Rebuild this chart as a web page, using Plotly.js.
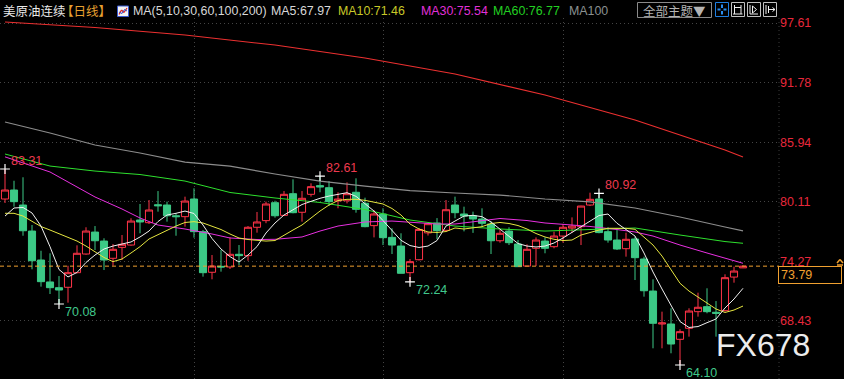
<!DOCTYPE html>
<html><head><meta charset="utf-8">
<script src="https://cdn.plot.ly/plotly-3.0.1.min.js"></script>
<style>html,body{margin:0;padding:0;background:#000;overflow:hidden}</style>
</head><body><div id="chart" style="width:844px;height:379px"></div>
<script>
// ---------------- DATA ----------------
const opens = [80.37,81.25,79.78,77.23,74.39,72.24,71.68,71.72,73.15,74.98,
77.13,76.25,74.56,75.63,75.86,78.31,78.05,79.81,79.78,78.73,
78.64,80.37,77.17,73.19,73.77,73.71,74.95,74.82,77.60,78.25,
80.01,78.77,80.89,79.07,80.83,81.68,81.48,80.18,80.20,81.03,
79.95,77.76,78.90,76.61,75.76,73.15,74.42,77.05,78.02,77.30,
79.78,78.90,78.73,78.41,77.92,76.28,77.23,75.96,73.80,75.54,
76.25,75.70,76.74,77.52,77.66,79.78,80.37,77.17,76.35,75.50,
76.45,74.49,71.35,68.12,68.12,66.62,67.70,69.33,69.82,69.27,
69.43,72.72,73.62];
const highs = [83.31,82.16,82.50,77.82,75.30,75.05,72.82,73.83,75.83,77.60,
77.72,76.52,75.96,76.84,78.48,79.88,80.27,81.15,80.11,78.97,
80.60,81.42,77.33,74.88,75.37,76.61,75.86,77.72,79.10,80.11,
80.20,81.15,82.30,81.15,81.91,82.61,82.13,81.03,82.00,82.40,
80.50,79.29,79.46,77.50,77.01,74.49,77.52,78.02,78.50,80.27,
80.60,79.62,79.13,79.46,78.21,77.33,77.60,76.35,75.93,76.61,
76.61,77.17,77.92,78.57,79.71,80.99,80.92,77.60,77.33,77.07,
76.68,74.72,72.50,69.33,69.66,67.60,69.66,71.19,71.62,70.37,
72.99,73.74,73.85];
const lows = [79.98,79.62,76.77,73.48,71.78,71.06,70.08,70.21,73.09,74.91,
75.37,73.41,73.83,74.39,75.79,77.01,77.92,79.13,78.15,76.77,
77.66,76.58,72.76,72.50,73.25,73.51,73.90,74.32,77.07,78.00,
78.54,78.70,78.97,78.15,80.60,81.03,79.68,79.46,79.94,79.03,
77.60,76.61,75.86,74.98,73.09,72.24,74.35,76.79,76.42,77.20,
78.48,77.20,77.05,77.66,74.98,76.09,75.86,73.74,73.80,73.80,
75.05,75.54,76.09,77.05,75.86,79.68,77.01,76.09,75.37,74.72,
72.43,70.80,65.74,65.74,65.25,64.10,66.88,68.84,69.17,66.88,
69.33,72.17,73.60];
const closes = [81.25,80.11,77.26,74.32,72.27,71.68,71.45,73.15,75.05,77.23,
76.28,74.39,75.44,75.93,78.21,78.12,79.29,79.71,78.73,78.64,
80.17,77.17,73.15,73.80,73.71,74.95,74.82,77.60,78.12,79.88,
78.73,80.83,79.03,80.44,81.58,81.55,80.11,80.37,80.89,79.36,
77.66,78.90,76.58,75.86,73.09,74.23,77.39,77.95,77.27,79.32,
79.03,78.70,78.41,77.99,76.28,77.01,76.09,73.74,75.44,76.35,
75.54,76.74,77.60,77.72,79.68,80.34,77.08,76.35,75.47,76.42,
74.62,71.38,68.19,68.22,66.16,67.37,69.39,69.76,69.33,69.17,
72.66,73.31,73.79];

const ma5 = [78.70,79.49,79.54,79.00,77.72,75.70,73.46,72.73,73.17,74.15,
74.88,75.47,75.76,75.96,76.16,76.65,77.23,78.16,78.80,78.97,
79.19,78.95,77.82,76.50,75.47,74.72,74.20,74.88,75.71,77.04,
78.02,78.80,79.29,79.83,80.14,80.44,80.66,80.86,80.99,80.63,
79.95,79.19,78.26,77.33,76.32,75.81,75.62,75.76,76.30,77.72,
78.21,78.70,78.77,78.64,78.12,77.43,76.69,76.01,75.76,75.67,
75.76,76.06,76.55,77.09,77.67,78.16,78.75,78.90,77.99,77.38,
76.74,75.08,73.22,71.55,69.88,68.36,67.78,67.87,68.25,68.61,
69.69,70.57,71.62];
const ma10 = [78.97,78.97,78.70,78.21,77.67,77.33,76.99,76.65,76.25,75.76,
75.18,74.64,74.23,74.49,75.08,75.70,76.45,76.89,77.33,77.72,
78.07,78.15,78.02,77.72,77.38,76.94,76.55,76.40,76.30,76.25,
76.30,76.84,77.33,77.82,78.51,79.19,79.78,80.22,80.34,80.34,
80.24,80.08,79.88,79.44,78.80,77.92,77.43,77.14,77.09,77.18,
77.53,77.43,77.53,77.66,77.97,78.07,77.97,77.77,77.43,76.99,
76.65,76.42,76.30,76.35,76.84,77.09,77.33,77.50,77.53,77.50,
77.40,76.65,75.86,74.78,73.41,72.11,71.35,70.77,70.23,69.59,
69.25,69.49,69.88];
const ma30Idx = [0,3,5,7,10,13,15,17,20,23,25,28,30,33,35,37,40,43,45,48,50,53,55,58,60,63,65,68,70,72,75,78,80,82];
const ma30 = [84.50,83.60,83.02,82.04,80.57,79.39,78.51,77.82,77.43,76.94,76.55,76.40,76.42,76.65,77.23,77.72,78.12,78.21,78.12,77.92,77.92,78.21,78.46,78.26,78.02,77.82,77.68,77.38,77.14,76.74,75.86,75.08,74.59,74.07];
const ma60Idx = [0,5,10,15,20,25,30,35,40,45,50,55,60,65,70,75,80,82];
const ma60 = [84.78,83.60,83.11,82.77,82.13,81.01,80.47,80.03,79.34,78.31,77.72,77.43,77.23,77.40,77.53,76.84,76.20,76.03];
const ma100Idx = [0,5,10,15,20,25,30,35,40,45,50,55,60,65,70,75,80,82];
const ma100 = [87.92,86.84,85.66,84.88,83.98,83.60,82.82,82.13,81.64,81.20,80.96,80.76,80.37,80.08,79.49,78.61,77.63,77.24];
const ma200Idx = [0,10,20,30,40,50,60,70,80,82];
const ma200 = [97.72,97.18,96.44,95.46,94.19,92.62,90.56,88.11,85.17,84.49];

const priceTicks = [97.61, 91.78, 85.94, 80.11, 74.27, 68.43];
const monthStarts = [21, 42, 62];
const highMarks = [0, 35, 66];
const lowMarks = [6, 45, 75];

const titleName = '美原油连续';
const period = '【日线】';
const maLabel = 'MA(5,10,30,60,100,200)';
const maValues = [['MA5', '67.97'], ['MA10', '71.46'], ['MA30', '75.54'], ['MA60', '76.77'], ['MA100', '']];
const themeLabel = '全部主题▼';
const watermark = 'FX678';

// ---------------- STYLE / LAYOUT ----------------
const W = 844, H = 379, L = 0, R = 65, T = 18, B = 0;
const plotW = W - L - R, plotH = H - T - B;
const fx = px => (px - L) / plotW;
const fy = py => (H - B - py) / plotH;
const RED = '#ff3448', GREEN = '#3cc986';
const LATIN = 'Liberation Sans, Arial, sans-serif';
const CJK = 'Noto Sans CJK SC, sans-serif';
const idx = closes.map((_, i) => i);

const traces = [
  {type: 'candlestick', x: idx, open: opens, high: highs, low: lows, close: closes,
   increasing: {line: {color: RED, width: 1}, fillcolor: '#000'},
   decreasing: {line: {color: GREEN, width: 1}, fillcolor: GREEN},
   whiskerwidth: 0, hoverinfo: 'skip'},
  {type: 'scatter', mode: 'lines', x: ma200Idx, y: ma200, line: {color: '#ec3030', width: 1.1}},
  {type: 'scatter', mode: 'lines', x: ma100Idx, y: ma100, line: {color: '#8c8c8c', width: 1.2}},
  {type: 'scatter', mode: 'lines', x: ma60Idx, y: ma60, line: {color: '#2ee02e', width: 1}},
  {type: 'scatter', mode: 'lines', x: ma30Idx, y: ma30, line: {color: '#e830e0', width: 1}},
  {type: 'scatter', mode: 'lines', x: idx, y: ma10, line: {color: '#e6e640', width: 1}},
  {type: 'scatter', mode: 'lines', x: idx, y: ma5, line: {color: '#f0f0f0', width: 1}},
  {type: 'scatter', mode: 'markers',
   x: highMarks.concat(lowMarks),
   y: highMarks.map(i => highs[i]).concat(lowMarks.map(i => lows[i])),
   marker: {symbol: 'cross-thin', size: 7, color: '#fff', line: {color: '#fff', width: 1.2}}}
];

const ann = [];
function txt(text, px, py, color, size, family, anchor) {
  ann.push({xref: 'paper', yref: 'paper', x: fx(px), y: fy(py), text: text, showarrow: false,
    xanchor: anchor || 'left', yanchor: 'middle', font: {family: family, size: size, color: color}});
}
// header texts
txt(titleName, 1, 10.5, '#e8e8e8', 12.5, CJK);
txt(period, 59, 10.5, '#e8a030', 12.5, CJK);
txt(maLabel, 131, 11, '#d8d8d8', 12.4, LATIN);
const maColors = ['#d8d8d8', '#c8c828', '#e030d8', '#22d022', '#8a9090'];
const maX = [269, 336, 419, 491, 567];
maValues.forEach((m, k) => txt(m[1] ? m[0] + ':' + m[1] : m[0], maX[k], 11, maColors[k], 12.4, LATIN));
txt(themeLabel, 674.5, 10.5, '#b4b4b4', 12.5, CJK, 'center');
txt(watermark, 714, 345, '#ececec', 32, LATIN);

// extreme labels
highMarks.forEach(i => ann.push({x: i, y: highs[i], text: highs[i].toFixed(2), showarrow: false,
  xanchor: 'left', yanchor: 'middle', xshift: 4, yshift: 8, font: {family: LATIN, size: 12.5, color: '#ee3a4e'}}));
lowMarks.forEach(i => ann.push({x: i, y: lows[i], text: lows[i].toFixed(2), showarrow: false,
  xanchor: 'left', yanchor: 'middle', xshift: 4, yshift: -8, font: {family: LATIN, size: 12.5, color: '#40c88c'}}));

// last price box
const last = closes[closes.length - 1];
ann.push({xref: 'paper', x: 1, y: last, text: last.toFixed(2), showarrow: false, xanchor: 'left', yanchor: 'top',
  xshift: -1, width: 58, height: 12, align: 'left', borderpad: 2, bordercolor: '#f0a030', borderwidth: 1,
  bgcolor: '#000', font: {family: LATIN, size: 12.5, color: '#f0a030'}});

function rect(x0, y0, x1, y1, color, fill) {
  return {type: 'rect', xref: 'paper', yref: 'paper', x0: fx(x0), x1: fx(x1), y0: fy(y1), y1: fy(y0),
    line: {color: color, width: 1}, fillcolor: fill || 'rgba(0,0,0,0)', layer: 'above'};
}
const shapes = [
  {type: 'line', xref: 'paper', x0: 0, x1: 1, y0: last, y1: last, line: {color: '#f0a030', width: 1, dash: '4px,3px'}},
  {type: 'line', xref: 'paper', yref: 'paper', x0: 1, x1: 1, y0: 0, y1: 1, line: {color: '#3c3c3c', width: 1, dash: '1px,3px'}},
  rect(117.5, 6, 128.5, 16.5, '#3a5ad0', '#f4f4f4'),
  rect(637.5, 2.5, 711.5, 17.5, '#8a8a8a'),
  rect(715.5, 2.5, 728.5, 16.5, '#1f7fe0'),
  rect(731.5, 2.5, 744.5, 16.5, '#c0c0c0'),
  rect(747.5, 2.5, 760.5, 16.5, '#c0c0c0'),
  rect(763.5, 2.5, 776.5, 16.5, '#c0c0c0')
];
function poly(pts, color, w) {
  for (let k = 1; k < pts.length; k++) {
    shapes.push({type: 'line', xref: 'paper', yref: 'paper', layer: 'above',
      x0: fx(pts[k - 1][0]), y0: fy(pts[k - 1][1]), x1: fx(pts[k][0]), y1: fy(pts[k][1]),
      line: {color: color, width: w || 1}});
  }
}
// MA icon glyph
poly([[119, 14.5], [121.5, 10], [124, 12.5], [127, 8]], '#e02020', 1.2);
poly([[119, 12], [122, 13.5], [124.5, 9.5], [127, 11]], '#3050d0', 1);
// crosshair icon
poly([[722, 4.5], [722, 8]], '#2a8ef0', 2); poly([[722, 11], [722, 14.5]], '#2a8ef0', 2);
poly([[717.5, 9.5], [720.5, 9.5]], '#2a8ef0', 2); poly([[723.5, 9.5], [726.5, 9.5]], '#2a8ef0', 2);
// icon 2
poly([[734.5, 5], [734.5, 14]], '#f0f0f0'); poly([[741, 5], [741, 14]], '#f0f0f0');
poly([[733, 14], [742.5, 14]], '#f0f0f0'); poly([[734.5, 7.5], [741, 7.5]], '#f0f0f0');
// icon 3
poly([[750, 5], [750, 14], [758, 14]], '#f0f0f0');
poly([[752.5, 6], [756.5, 9.5], [752.5, 13], [752.5, 6]], '#f0f0f0');
// icon 4
poly([[766, 5], [766, 14]], '#f0f0f0'); poly([[768.5, 6], [768.5, 13]], '#f0f0f0');
poly([[768.5, 9.5], [775, 9.5]], '#f0f0f0'); poly([[772.5, 7.5], [775, 9.5], [772.5, 11.5]], '#f0f0f0');
// small orange marker at right edge of the last-price line
poly([[837, 263], [840, 259.5], [843, 263]], '#f0a030', 1.5);
poly([[837, 265], [843, 265]], '#f0a030', 1.5);

const layout = {
  width: W, height: H, margin: {l: L, r: R, t: T, b: B, pad: 0},
  paper_bgcolor: '#000', plot_bgcolor: '#000', showlegend: false, hovermode: false, dragmode: false,
  boxgap: 0.1, boxgroupgap: 0.12,
  xaxis: {type: 'linear', range: [-5 / 9, 774 / 9], tickvals: monthStarts, showticklabels: false, ticks: '',
    showgrid: true, gridcolor: '#444', griddash: '1px,3px', gridwidth: 1, zeroline: false, showline: false,
    rangeslider: {visible: false}, fixedrange: true},
  yaxis: {side: 'right', range: [62.73, 98.11], tickvals: priceTicks, ticktext: priceTicks.map(v => v.toFixed(2)),
    ticks: '', tickfont: {family: LATIN, size: 12.5, color: '#e8283c'}, showgrid: true, gridcolor: '#444',
    griddash: '1px,3px', gridwidth: 1, zeroline: false, showline: false, fixedrange: true},
  annotations: ann, shapes: shapes
};
Plotly.newPlot('chart', traces, layout, {staticPlot: true, displayModeBar: false});
</script></body></html>
